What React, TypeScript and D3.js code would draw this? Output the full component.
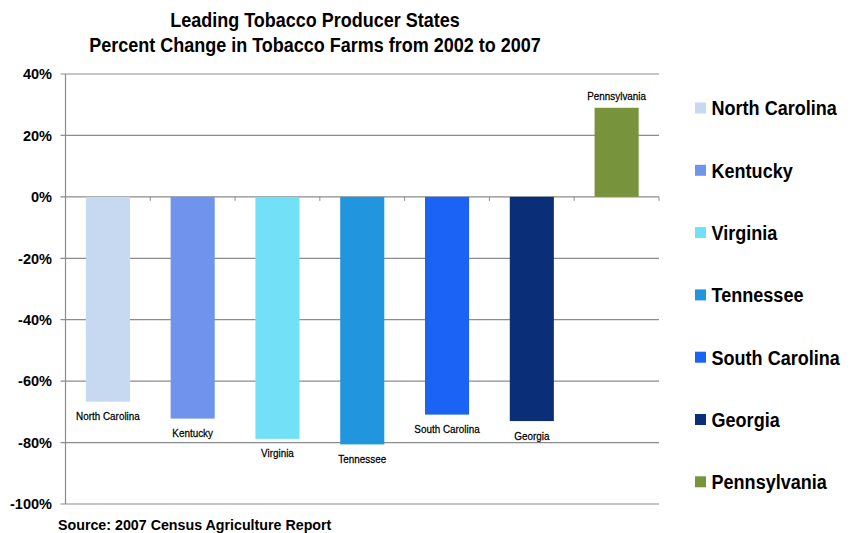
import React from "react";
import * as d3 from "d3";

const states = ["North Carolina", "Kentucky", "Virginia", "Tennessee", "South Carolina", "Georgia", "Pennsylvania"];
const changes = [-66.7, -72.2, -78.8, -80.6, -70.9, -73.0, 29.0];
const colors = ["#C6D9F1", "#7094EE", "#72E0F6", "#2295DF", "#1A63F5", "#0A2E78", "#77933C"];
const yTicks = [40, 20, 0, -20, -40, -60, -80, -100];
const titleLines = ["Leading Tobacco Producer States", "Percent Change in Tobacco Farms from 2002 to 2007"];
const sourceText = "Source: 2007 Census Agriculture Report";

const W = 854, H = 533;
const FONT = "'Liberation Sans', Arial, sans-serif";

type CTextProps = {
  x: number;
  y: number;
  sx: number;
  size: number;
  bold?: boolean;
  anchor?: "start" | "middle" | "end";
  dy?: string;
  children: React.ReactNode;
};

function CText({ x, y, sx, size, bold, anchor = "start", dy, children }: CTextProps) {
  return (
    <text
      transform={`translate(${x},${y}) scale(${sx},1)`}
      textAnchor={anchor}
      dy={dy}
      fontFamily={FONT}
      fontWeight={bold ? "bold" : "normal"}
      fontSize={size}
      fill="#000"
    >
      {children}
    </text>
  );
}

export default function App() {
  const left = 65.5, right = 659, top = 74, bottom = 504;
  const x = d3.scaleBand<string>().domain(states).range([left, right]).paddingInner(0.48).paddingOuter(0.24);
  const y = d3.scaleLinear().domain([-100, 40]).range([bottom, top]);
  const bandStep = (right - left) / states.length;
  const boundaries = d3.range(states.length + 1).map((i) => left + i * bandStep);

  return (
    <div style={{ position: "absolute", left: 0, top: 0 }}>
      <svg width={W} height={H} style={{ display: "block", background: "#fff" }}>
        {titleLines.map((t, i) => (
          <CText key={i} x={315} y={26.5 + i * 25.5} sx={0.9} size={20} bold anchor="middle">
            {t}
          </CText>
        ))}
        {yTicks.map((t) => (
          <g key={t}>
            <line x1={left - 5} x2={right} y1={y(t)} y2={y(t)} stroke="#8c8c8c" strokeWidth={1.2} />
            <CText x={52} y={y(t)} sx={0.97} size={15} bold anchor="end" dy="0.35em">
              {t}%
            </CText>
          </g>
        ))}
        <line x1={left} x2={left} y1={top} y2={bottom} stroke="#8c8c8c" strokeWidth={1.2} />
        {boundaries.map((bx, i) => (
          <line key={i} x1={bx} x2={bx} y1={y(0)} y2={y(0) + 4} stroke="#8c8c8c" strokeWidth={1} />
        ))}
        {states.map((s, i) => {
          const v = changes[i];
          const y0 = y(Math.max(0, v));
          const y1 = y(Math.min(0, v));
          const cx = (x(s) as number) + x.bandwidth() / 2;
          return (
            <g key={s}>
              <rect x={x(s)} y={y0} width={x.bandwidth()} height={y1 - y0} fill={colors[i]} />
              <CText x={cx} y={v < 0 ? y(v) + 14.5 : y(v) - 12} sx={0.86} size={11.5} anchor="middle" dy="0.35em">
                <tspan stroke="#000" strokeWidth={0.25}>{s}</tspan>
              </CText>
            </g>
          );
        })}
        {states.map((s, i) => {
          const ly = 108 + i * 62.3;
          return (
            <g key={"lg" + s}>
              <rect x={695} y={ly - 5.5} width={11} height={11} fill={colors[i]} />
              <CText x={711.5} y={ly} sx={0.86} size={21} bold dy="0.35em">
                {s}
              </CText>
            </g>
          );
        })}
        <CText x={58} y={530} sx={0.92} size={15.5} bold>
          {sourceText}
        </CText>
      </svg>
    </div>
  );
}
